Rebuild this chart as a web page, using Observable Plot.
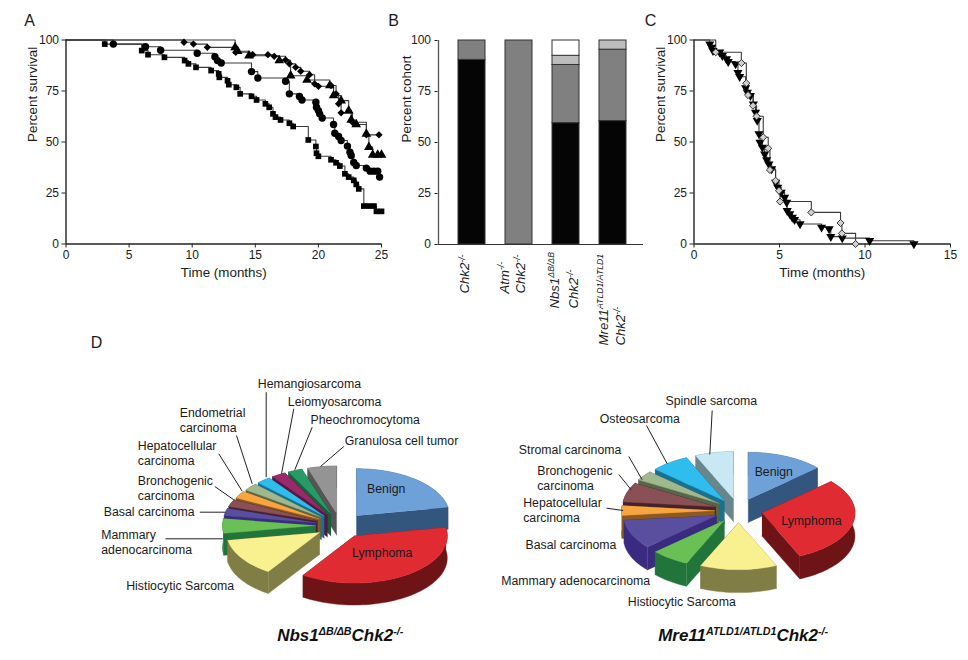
<!DOCTYPE html>
<html><head><meta charset="utf-8">
<script src="https://cdn.jsdelivr.net/npm/d3@7"></script>
<script src="https://cdn.jsdelivr.net/npm/@observablehq/plot@0.6"></script>
<style>
html,body{margin:0;padding:0;background:#fff}
#fig{position:relative;width:968px;height:660px;overflow:hidden;background:#fff}
#fig svg{position:absolute;background:transparent}
</style></head><body><div id="fig"></div>
<script>
// Panel A: Kaplan-Meier series
const aSquareT=[3.07,6,6.5,7.8,9.4,9.7,10.3,11.5,12.1,12.15,12.8,12.9,13.5,13.8,14.7,15.1,15.8,16.1,16.4,16.6,17,17.7,18,19.2,19.8,19.85,20,21,21.4,21.7,22.1,22.4,22.8,23,23.2,23.6,24,24.4,24.6,25];
const aSquareS=[98,94.8,92.8,91.5,89.9,88.3,86.6,85,83.4,81.7,80,78.1,76.8,73.6,72.4,70.6,68.7,67,63.8,62.2,60.8,59.2,57.6,51,47.8,44.5,43,41.3,39.8,38.2,34.4,32.8,31.2,29.2,27,18.6,18.6,18.6,16,16];
const aCircleT=[3.75,6.3,7.5,10.4,11.8,12,12.3,14.7,15.2,17.4,17.7,18.5,18.7,19.8,19.85,20,20.1,20.3,21.2,21.3,21.6,21.8,22.3,22.5,22.6,22.8,23,23.8,24.1,24.4,24.7,24.85];
const aCircleS=[98,96.7,95,93.5,91.8,89.9,88.7,84.5,81.4,79.8,73.6,72.3,70.6,69.5,67,65.4,63.8,61.8,58.6,54.3,52.7,50.7,48,45,43.4,40,38.5,37.2,35.7,35.7,35.7,32.8];
const aTriangleT=[13.4,13.6,14.5,16.9,17.8,19.1,20.9,21.2,21.8,22.4,22.6,23,23.8,24,24.3,24.7,25];
const aTriangleS=[96.4,94.5,92.3,90,82.5,80.4,77.7,72.8,70.3,65.4,60.8,58.6,54,47.5,43.7,43.7,43.7];
const aDiamondT=[9.35,10.1,11.2,13.45,14.8,16,16.5,17.4,17.7,18.2,18.6,19.3,19.7,20,21,21.4,21.6,21.8,22.7,23.8,24.8];
const aDiamondS=[98.9,98,96.4,94,92.8,92.8,92,90.2,88.3,86.6,84.7,83,78.5,77.3,77.7,73.6,68.7,64.3,59.7,53.5,53.5];
// Panel B: cohort composition
const cohorts=["Chk2","Atm Chk2","Nbs1 Chk2","Mre11 Chk2"];
const layerNames=["black","grey","light","white"];
const layerColours=["#050505","#808080","#bdbdbd","#ffffff"];
const cohortBlack=[90.5,0,59.5,60.5];
const cohortGrey=[9.5,100,28.5,35];
const cohortLight=[0,0,4.5,4.5];
const cohortWhite=[0,0,7.5,0];
const cohortLines=[["Chk2^{-/-}"],["Atm^{-/-}","Chk2^{-/-}"],["Nbs1^{ΔB/ΔB}","Chk2^{-/-}"],["Mre11^{ATLD1/ATLD1}","Chk2^{-/-}"]];
// Panel C
const cTriangleT=[.92,1.03,1.11,1.5,1.66,1.9,2,2.43,2.57,2.67,3.02,3.12,3.3,3.47,3.6,3.7,3.8,3.86,4,4.13,4.25,4.38,4.54,4.77,4.9,5.1,5.3,5.42,5.45,5.6,5.75,5.88,6.2,7.46,7.9,8,8.67,10.27,12.86];
const cTriangleS=[98,96.4,94.8,94,92.3,90.7,89.4,88.2,84,82,76.5,74.3,72.7,68.6,64.5,60.5,54,49.8,47.4,44.1,41.2,39.2,36.8,30.2,27.8,25.3,22.9,20.4,16.3,14.7,13,11.9,9.8,8.2,7.4,3.6,2.9,1.6,0];
const cDiamondT=[1.27,2.77,3.06,3.16,3.45,3.66,4.05,4.34,4.44,4.77,4.97,5.03,6.86,8.57,8.65,9.45];
const cDiamondS=[94,88.7,78.8,73,67.8,62.6,52.3,46.9,36.3,31,26.1,20.8,15.5,10.3,5.2,0];
// Panel D: tumour spectra
const nbsTumours=["Benign","Lymphoma","Histiocytic Sarcoma","Mammary adenocarcinoma","Basal carcinoma","Bronchogenic carcinoma","Hepatocellular carcinoma","Endometrial carcinoma","Hemangiosarcoma","Leiomyosarcoma","Pheochromocytoma","Granulosa cell tumor"];
const nbsShare=[22,37,13,5,2.5,2.5,2.5,2.5,2.5,2.5,2.5,5];
const nbsTop=["#6fa1d9","#e02b33","#f9f18f","#6abf55","#5a4f9e","#895055","#f9a53f","#a0b88e","#2fbdee","#982a6a","#289a68","#949494"];
const nbsWall=["#33567f","#6e1416","#807d45","#21743a","#3a2a80","#45222a","#8a5a20","#57664a","#1a7090","#5a1540","#14603a","#555555"];
const mreTumours=["Benign","Lymphoma","Histiocytic Sarcoma","Mammary adenocarcinoma","Basal carcinoma","Hepatocellular carcinoma","Bronchogenic carcinoma","Stromal carcinoma","Osteosarcoma","Spindle sarcoma"];
const mreShare=[4,9,4,2,3,1,2,1,2,2];
const mreTop=["#6fa1d9","#e02b33","#f9f18f","#6abf55","#5a4f9e","#f9a53f","#895055","#a0b88e","#2fbdee","#c8e8f4"];
const mreWall=["#33567f","#6e1416","#807d45","#21743a","#3a2a80","#8a5a20","#45222a","#57664a","#1a7090","#68868c"];

const FONT='"Liberation Sans",Arial,sans-serif', INK="#1a1a1a";
const fig=document.getElementById("fig");
function place(svg,left,top){svg.style.left=left+"px";svg.style.top=top+"px";fig.appendChild(svg);return svg;}
function rich(svg,ratio){
  svg.querySelectorAll("text").forEach(t=>{
    const s=t.textContent; if(!s.includes("^{"))return;
    const fs=parseFloat(getComputedStyle(t).fontSize);
    const sup=fs*ratio, rise=fs*0.36;
    t.textContent="";
    let pending=0;
    s.split(/(\^\{[^}]*\})/).filter(Boolean).forEach(p=>{
      const isSup=p.startsWith("^{");
      const e=document.createElementNS("http://www.w3.org/2000/svg","tspan");
      e.textContent=isSup?p.slice(2,-1):p;
      if(isSup){e.setAttribute("font-size",sup);e.setAttribute("dy",-rise);pending=rise;}
      else if(pending){e.setAttribute("dy",pending);pending=0;}
      t.appendChild(e);
    });
  });
  return svg;
}
function frameText(text,opts){return Plot.text([text],{text:d=>d,fontSize:13.4,fill:INK,...opts});}
const table=(ts,ss)=>ts.map((t,i)=>({t,s:ss[i]}));
const stepped=(rows)=>[{t:0,s:100},...rows];

function survival(series,{width,left,right,maxT,ticks,yLabelDx}){
  const marks=[];
  for(const q of series) marks.push(Plot.line(stepped(q.rows),{x:"t",y:"s",curve:"step-after",stroke:"#3a3a3a",strokeWidth:1.1}));
  marks.push(Plot.ruleX([0],{stroke:"#222",strokeWidth:1.4}),Plot.ruleY([0],{stroke:"#222",strokeWidth:1.4}));
  for(const q of series) marks.push(Plot.dot(q.rows,{x:"t",y:"s",...q.dot}));
  marks.push(
    Plot.axisX({ticks,tickSize:4,tickPadding:2,fontSize:12,label:null,tickFormat:d=>d,stroke:"#222"}),
    Plot.axisY({ticks:[0,25,50,75,100],tickSize:4,tickPadding:3,fontSize:12,label:null,tickFormat:d=>d,stroke:"#222"}),
    frameText("Time (months)",{frameAnchor:"bottom",dy:33}),
    frameText("Percent survival",{frameAnchor:"left",rotate:-90,dx:yLabelDx})
  );
  return Plot.plot({width,height:290,marginLeft:left,marginRight:right,marginTop:39.5,marginBottom:46.5,
    style:{fontFamily:FONT,color:INK,background:"transparent"},
    x:{domain:[0,maxT]},y:{domain:[0,100]},marks});
}
place(survival([
  {rows:table(aDiamondT,aDiamondS),dot:{symbol:"diamond2",r:3.3,fill:"#000"}},
  {rows:table(aTriangleT,aTriangleS),dot:{symbol:"triangle",r:3.6,fill:"#000"}},
  {rows:table(aCircleT,aCircleS),dot:{symbol:"circle",r:3.7,fill:"#000"}},
  {rows:table(aSquareT,aSquareS),dot:{symbol:"square",r:3.2,fill:"#000"}}
],{width:420,left:65.5,right:39,maxT:25,ticks:[0,5,10,15,20,25],yLabelDx:-33}),0,0);

// B
const stackRows=cohorts.flatMap((c,i)=>[cohortBlack,cohortGrey,cohortLight,cohortWhite].map((arr,k)=>({c,layer:layerNames[k],v:arr[i],fill:layerColours[k]})));
const labelMarks=[];
const lineDx=[[-2.7],[-10,6],[-7,12],[-5,12]];
const lineDy=[[49],[49,49],[64,64],[101,101]];
cohortLines.forEach((lines,i)=>lines.forEach((text,j)=>{
  labelMarks.push(Plot.text([{c:cohorts[i],text}],{x:"c",frameAnchor:"bottom",text:"text",rotate:-90,textAnchor:"start",fontStyle:"italic",fontSize:13.2,fill:INK,dx:lineDx[i][j],dy:lineDy[i][j]}));
}));
rich(place(Plot.plot({width:263,height:360,marginLeft:57.5,marginRight:0,marginTop:40,marginBottom:116,
  style:{fontFamily:FONT,color:INK,background:"transparent"},
  x:{domain:cohorts,paddingInner:.435,paddingOuter:.39,align:.54,axis:null},
  y:{domain:[0,100]},
  marks:[
    Plot.barY(stackRows.filter(d=>d.v>0),{x:"c",y:"v",fill:"fill",stroke:"#333",strokeWidth:1,order:null}),
    Plot.ruleY([0],{stroke:"#333",strokeWidth:1.2}),
    Plot.axisY({ticks:[0,25,50,75,100],tickSize:3,tickPadding:4,fontSize:12,label:null,tickFormat:d=>d}),
    frameText("Percent cohort",{frameAnchor:"left",rotate:-90,dx:-31}),
    ...labelMarks
  ]}),380,0),.66);
// spine of panel B
place(Plot.plot({width:6,height:290,margin:0,marginTop:40,marginBottom:46,y:{domain:[0,100],axis:null},x:{axis:null,domain:[0,1]},
  style:{background:"transparent"},marks:[Plot.ruleX([0.5],{y1:0,y2:100,stroke:"#555",strokeWidth:1.3})]}),434.5,0);

// C
place(survival([
  {rows:table(cTriangleT,cTriangleS),dot:{symbol:"triangle",r:3.4,fill:"#000",rotate:180}},
  {rows:table(cDiamondT,cDiamondS),dot:{symbol:"diamond2",r:3.2,fill:"#cfcfcf",stroke:"#333",strokeWidth:1}}
],{width:328,left:53.5,right:18,maxT:15,ticks:[0,5,10,15],yLabelDx:-33}),640,0);

// D: exploded 3-D pies, geometry from the slice shares
const piePieces=[];
function pie3d(name,shares,tops,walls,cx,cy,rx,ry,depth,explode){
  const arcs=d3.pie().sort(null).startAngle(0).endAngle(2*Math.PI)(shares);
  const items=arcs.map((a,i)=>{
    const mid=(a.startAngle+a.endAngle)/2;
    const ax=cx+explode*Math.sin(mid), ay=cy-explode*Math.cos(mid)*ry/rx;
    return {i,a,ax,ay,order:ay-ry*Math.cos(mid)*.6};
  }).sort((p,q)=>p.order-q.order);
  items.forEach(({i,a,ax,ay})=>{
    const P=th=>[ax+rx*Math.sin(th),ay-ry*Math.cos(th)];
    const n=Math.max(2,Math.ceil((a.endAngle-a.startAngle)/.04));
    const arc=d3.range(n+1).map(k=>P(a.startAngle+(a.endAngle-a.startAngle)*k/n));
    const down=p=>[p[0],p[1]+depth];
    const polys=[
      {pts:[[ax,ay],arc[0],down(arc[0]),[ax,ay+depth]],fill:walls[i]},
      {pts:[[ax,ay],arc[n],down(arc[n]),[ax,ay+depth]],fill:walls[i]},
      {pts:[...arc,...arc.slice().reverse().map(down)],fill:walls[i]},
      {pts:[[ax,ay],...arc],fill:tops[i]}
    ];
    polys.forEach((poly,k)=>poly.pts.forEach(p=>piePieces.push({x:p[0],y:p[1],fill:poly.fill,z:`${name}-${i}-${k}`})));
  });
}
pie3d("nbs",nbsShare,nbsTop,nbsWall,340,525,93,47,22,25);
pie3d("mre",mreShare,mreTop,mreWall,738,510,93,47,23,24);

const labelsStart=[
 ["Hemangiosarcoma",257.3,384],["Leiomyosarcoma",287.3,401.7],["Pheochromocytoma",310,420],["Granulosa cell tumor",344.3,441],
 ["Endometrial",179.3,412.7],["carcinoma",179.3,427.3],["Hepatocellular",137.3,445.7],["carcinoma",137.3,460.7],
 ["Bronchogenic",137.3,480.7],["carcinoma",137.3,495.3],["Basal carcinoma",103.3,511.7],["Mammary",100.7,535],["adenocarcinoma",100.7,550],
 ["Histiocytic Sarcoma",125.7,585.3],
 ["Spindle sarcoma",665,400.7],["Osteosarcoma",599.3,418.3],["Stromal carcinoma",518.3,450],["Bronchogenic",536.7,470.7],["carcinoma",536.7,485.3],
 ["Hepatocellular",522.7,502.3],["carcinoma",522.7,517.3],["Basal carcinoma",525,545],["Mammary adenocarcinoma",500.7,581],["Histiocytic Sarcoma",627.3,601.7]
].map(([text,x,y])=>({text,x,y}));
const labelsMiddle=[["Benign",385.7,489],["Lymphoma",381.7,552.7],["Benign",773.3,471.3],["Lymphoma",811,521]].map(([text,x,y])=>({text,x,y}));
const titles=[["Nbs1^{ΔB/ΔB}Chk2^{-/-}",276.7,635],["Mre11^{ATLD1/ATLD1}Chk2^{-/-}",657.7,635]].map(([text,x,y])=>({text,x,y}));
const leaders=[
 [265.7,391.7,265.7,476.7],[293.3,408.3,281,473.3],[311.7,426.7,294.3,469.3],[343.3,446,320,466],[236,435,251.7,483.3],
 [218.3,453.3,241.7,490.7],[214.3,486,233.3,499.3],[199.3,511.7,225,511.7],[165,538.3,222.3,538.3],
 [711.7,410,709.3,454],[646,425,666.7,463.3],[628.3,456,641.7,479.3],[618.3,474,630.7,489.3],[606,507.7,622.7,510]
].map(([x1,y1,x2,y2])=>({x1,y1,x2,y2}));
const letters=[["A",29,20],["B",393,20],["C",650,20],["D",96,342]].map(([text,x,y])=>({text,x,y}));

rich(place(Plot.plot({width:968,height:660,margin:0,style:{fontFamily:FONT,color:INK,background:"transparent",pointerEvents:"none"},
  x:{domain:[0,968],range:[0,968],axis:null},y:{domain:[0,660],range:[0,660],axis:null},
  marks:[
    Plot.line(piePieces,{x:"x",y:"y",z:"z",fill:"fill",stroke:"fill",strokeWidth:.4,curve:"linear"}),
    Plot.link(leaders,{x1:"x1",y1:"y1",x2:"x2",y2:"y2",stroke:"#222",strokeWidth:1}),
    Plot.text(labelsStart,{x:"x",y:"y",text:"text",textAnchor:"start",fontSize:12.3,fill:INK}),
    Plot.text(labelsMiddle,{x:"x",y:"y",text:"text",textAnchor:"middle",fontSize:12.3,fill:INK}),
    Plot.text(titles,{x:"x",y:"y",text:"text",textAnchor:"start",fontSize:17,fontWeight:"bold",fontStyle:"italic",fill:"#111"}),
    Plot.text(letters,{x:"x",y:"y",text:"text",textAnchor:"middle",fontSize:16,fill:INK})
  ]}),0,0),.63);
</script></body></html>
